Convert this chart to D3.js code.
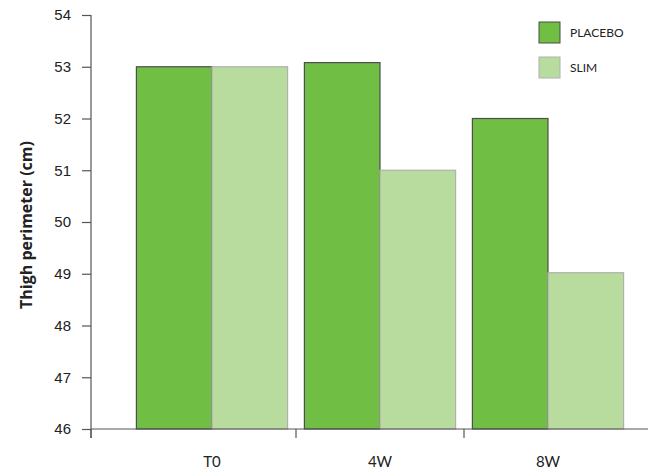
<!DOCTYPE html>
<html>
<head>
<meta charset="utf-8">
<script src="https://cdn.jsdelivr.net/npm/d3@7"></script>
<style>
  body { margin: 0; background: #fff; }
  svg { display: block; }
</style>
</head>
<body>
<svg></svg>
<script>
let categories = ['T0', '4W', '8W']
let series = ['PLACEBO', 'SLIM']
let placebo = [53.0, 53.08, 52.0]
let slim = [53.0, 51.0, 49.02]
let yTicks = [46, 47, 48, 49, 50, 51, 52, 53, 54]

let width = 648,
    height = 473;

let svg = d3.select('svg')
            .attr('width', width)
            .attr('height', height)
            .style('font-family', 'Lato, "Open Sans", sans-serif')

let axisX0 = 91

//y scale
let yScale = d3.scaleLinear()
      .domain([46, 54])
      .range([429, 15])

//x scale (groups)
let xScale = d3.scaleBand()
      .domain(categories)
      .range([128, 632])
      .paddingInner(0.1)
      .paddingOuter(0.05)

let inner = d3.scaleBand()
      .domain(series)
      .range([0, xScale.bandwidth()])

let colours = {PLACEBO: '#70bf44', SLIM: '#b7dc9e'}
let strokes = {PLACEBO: '#4d4d4d', SLIM: '#b0b0b0'}

let rows = categories.map((c, i) => ({cat: c, vals: [
  {s: 'PLACEBO', v: placebo[i]},
  {s: 'SLIM', v: slim[i]}
]}))

let groups = svg.selectAll('g.grp')
      .data(rows)
      .enter()
      .append('g')
      .attr('class', 'grp')
      .attr('transform', d => 'translate(' + xScale(d.cat) + ',0)')

groups.selectAll('rect')
      .data(d => d.vals)
      .enter()
      .append('rect')
      .attr('x', d => inner(d.s))
      .attr('y', d => yScale(d.v))
      .attr('width', inner.bandwidth())
      .attr('height', d => yScale(46) - yScale(d.v))
      .attr('fill', d => colours[d.s])
      .attr('stroke', d => strokes[d.s])
      .attr('stroke-width', 1.2)

// y axis
let yAxis = d3.axisLeft(yScale)
      .tickValues(yTicks)
      .tickSize(9)
      .tickPadding(11)
      .tickFormat(d3.format('d'))

let yg = svg.append('g')
      .attr('transform', 'translate(' + axisX0 + ',0)')
      .call(yAxis)
yg.select('.domain').remove()
yg.selectAll('line').attr('stroke', '#555').attr('stroke-width', 1.2)
yg.selectAll('text').attr('fill', '#222').style('font-size', '15px')
yg.append('line')
  .attr('x1', 0).attr('x2', 0)
  .attr('y1', 15).attr('y2', 438)
  .attr('stroke', '#555').attr('stroke-width', 1.2)

// x axis
let xg = svg.append('g')
let xTickPos = [axisX0].concat(categories.slice(1).map(c => xScale(c) - xScale.step() * xScale.paddingInner() / 2))
xg.append('line')
  .attr('x1', axisX0).attr('x2', width)
  .attr('y1', 429).attr('y2', 429)
  .attr('stroke', '#555').attr('stroke-width', 1.2)
xg.selectAll('line.tick')
  .data(xTickPos)
  .enter()
  .append('line')
  .attr('class', 'tick')
  .attr('x1', d => d).attr('x2', d => d)
  .attr('y1', 429).attr('y2', 438)
  .attr('stroke', '#555').attr('stroke-width', 1.2)
xg.selectAll('text')
  .data(categories)
  .enter()
  .append('text')
  .attr('x', d => xScale(d) + xScale.bandwidth() / 2)
  .attr('y', 467)
  .attr('text-anchor', 'middle')
  .attr('fill', '#222')
  .style('font-size', '15px')
  .text(d => d)

// y label
svg.append('text')
   .attr('transform', 'translate(32,' + 225 + ') rotate(-90)')
   .attr('text-anchor', 'middle')
   .style('font-family', '"Open Sans", sans-serif')
   .style('font-weight', 'bold')
   .style('font-size', '16px')
   .attr('fill', '#222')
   .text('Thigh perimeter (cm)')

// legend
let legend = svg.selectAll('g.leg')
      .data(series)
      .enter()
      .append('g')
      .attr('class', 'leg')
      .attr('transform', (d, i) => 'translate(539,' + (22 + i * 35) + ')')
legend.append('rect')
      .attr('width', 21).attr('height', 21)
      .attr('fill', d => colours[d])
      .attr('stroke', d => strokes[d])
      .attr('stroke-width', 1)
legend.append('text')
      .attr('x', 31).attr('y', 15)
      .style('font-size', '12px')
      .attr('fill', '#222')
      .text(d => d)
</script>
</body>
</html>
